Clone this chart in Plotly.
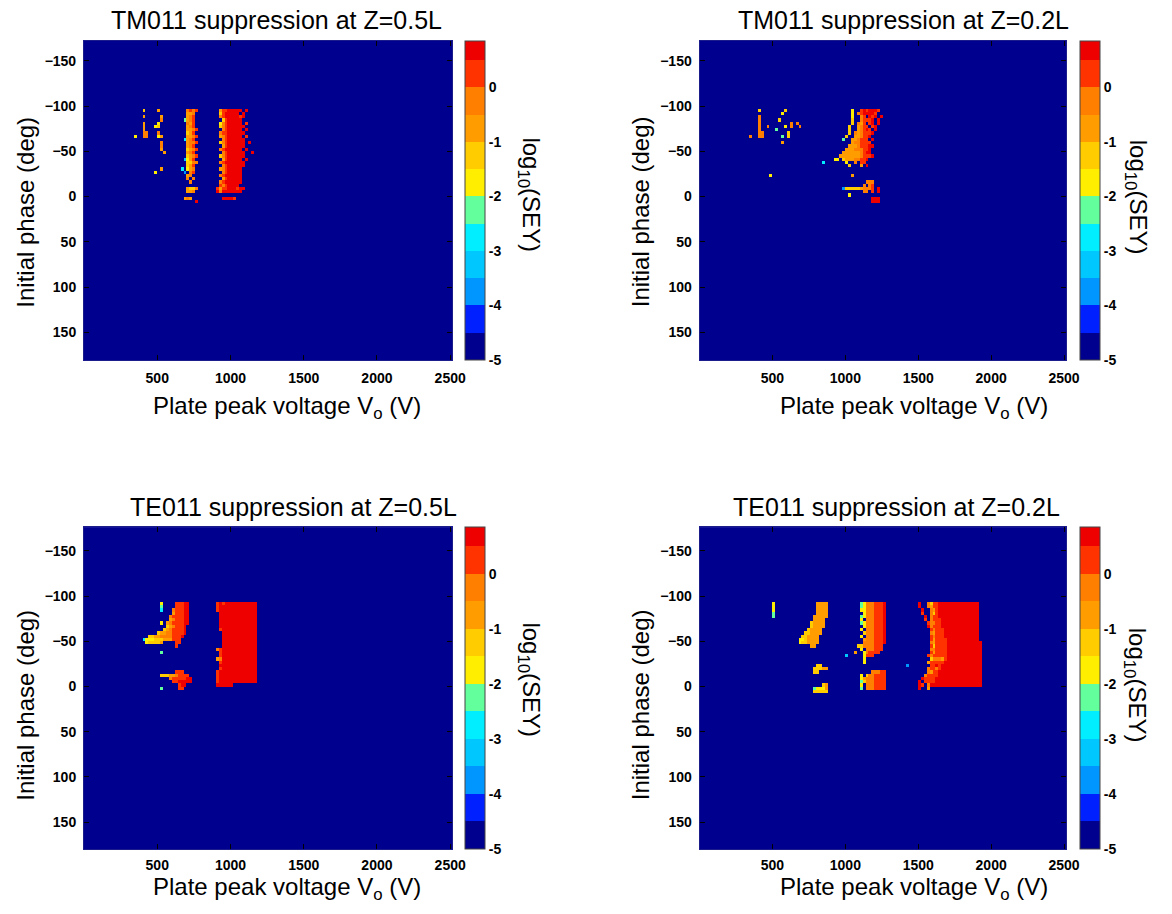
import plotly.graph_objects as go

# ---------------- grid (cell centres) ----------------
VOLT_CENTRES = [10 + 20 * j for j in range(126)]          # V, 20 V cells, 0..2520
PHASE_CENTRES = [-180 + 3.6 * (i + 0.5) for i in range(100)]  # deg, 3.6 deg cells
WIN_ROW0 = 23   # first phase row of the data windows (~ -95 deg)
WIN_COL0 = 15   # first voltage column of the data windows (300 V)

# level codes -> band of log10(SEY): '0' = -5 band ... 'B' = top band
LEVEL_CODES = "0123456789AB"
BAND_EDGES = [-5, -4.5, -4, -3.5, -3, -2.5, -2, -1.5, -1, -0.5, 0, 0.5, 0.85]
BAND_COLORS = ["#00008F", "#0020FF", "#0096FF", "#00C8FF", "#00EEFF", "#62FF9C",
               "#FFEE00", "#FFCC00", "#FF9C00", "#FF7F00", "#FF3300", "#EE0000"]
CB_TICKS = [-5, -4, -3, -2, -1, 0]
X_TICKS = [500, 1000, 1500, 2000, 2500]
Y_TICKS = [-150, -100, -50, 0, 50, 100, 150]

# ---------------- values (row: "col[-col]:level") ----------------
TM011_05L = [
    "5:7 10:8 20:9 21:A 22:9 23:A 31:8 32-33:A 34-38:B 40:B",
    "20-21:8 22:9 31:7 32:A 33-37:B 39:B",
    "5:8 11:8 20:8 21:9 22:A 31:9 32:A 33-37:B 38:A 39:B",
    "11:9 19:5 20:8 21:9 22:A 32:7 33:A 34-38:B",
    "5:8 10:6 20:9 21:8 22:A 31:6 32:9 33:A 34-38:B 40:A",
    "5:8 9:6 10:7 20:8 21:9 22:A 31:7 32:9 33:A 34-39:B",
    "5:8 20-21:8 22:9 23:A 32:9 33:A 34-38:B 40:B",
    "5-6:9 10:9 20:7 21:8 22:A 31:9 32-33:A 34-39:B",
    "2:6 5-6:9 10:6 11:8 20-21:8 22:9 23:A 31:8 32:9 33:A 34-38:B 40:A",
    "19:4 20:8 21:9 22:A 32:9 33:A 34-39:B",
    "11:9 20:8 21-22:9 23:A 31:7 32:9 33:A 34-39:B 41:B",
    "11:9 20:8 21:9 22:A 32:8 33:A 34-39:B",
    "11:8 20:7 21:8 22:9 23:A 31:9 32:A 33-38:B 40:B",
    "12:8 20:8 21:9 22:A 32:9 33:A 34-39:B 42:B",
    "20:7 21:8 22:9 23:A 31:7 32:9 33:A 34-39:B",
    "19:3 20:6 21:8 22:A 32:8 33:A 34-38:B 40:B",
    "20-21:7 22-23:9 31:9 32:A 33-39:B",
    "20:7 21:8 22:A 32:9 33:A 34-39:B",
    "11:8 18:4 20:6 21:8 22:9 31:8 32:9 33:A 34-38:B",
    "9:6 19:2 21:9 22:A 32:9 33:A 34-38:B",
    "20:8 21:9 31:9 32:A 33-38:B",
    "20:9 22:9 32:8 33:A 34-38:B",
    "21:9 31:9 32:A 33-38:B",
    "31:A 32:9 33:A 34-37:B",
    "20:8 21-22:7 23:9 30:A 31:8 32-33:A 34-36:B 37:A 38-39:B",
    "20-21:8 22:9 30:B 31:9 32-38:B",
    "",
    "19:8 20:9 21:8 32-35:B 36:A",
    "23:B",
]

TM011_02L = [
    "5:7 14:7 37:6 40:A 41:B 42:A 43-45:B 46:A",
    "13:6 37:6 39:9 40:A 41-44:B 45:A",
    "5:9 37:6 40:9 41:A 43:B 44:A 45:B 47:B",
    "5:9 12:7 37:7 40:9 41-43:A 44:B 46:B",
    "5:9 16:9 18:9 37:7 39:9 40:8 41:A 43:A 44:B 46:B",
    "5:9 8:9 14:6 16:9 19:9 36:7 39:8 40:9 41-42:A 44:A 45:B",
    "5:9 11:5 36:7 39:8 40:9 41:A 42:B 43:A 45:B",
    "5-6:9 15:7 36:7 38:9 39:8 40:9 41-43:A 44:B",
    "2:9 5-6:9 13:5 15:7 35:7 38-39:8 40:9 41-42:A 43:B",
    "34:5 37-38:8 39:9 40-42:A 44:B",
    "13:8 37:8 38-39:9 40-43:A",
    "36-38:8 39:9 40-42:A 43-44:B",
    "35-37:8 38-40:9 41-42:A 43:B",
    "34-39:8 40:9 41:A 42-43:B",
    "33-39:8 40:9 41-43:A 44:B",
    "31-32:6 34:7 35-37:8 38-39:9 40-41:A 42:B",
    "27:4 35:6 38:9 40-41:A",
    "36:7 40:8 42:B",
    "",
    "",
    "9:6 37:8",
    "",
    "42-44:9",
    "41:9 43:9 44:A",
    "34:2 35-39:7 40:8 41-43:9 44:A 46:B",
    "41-42:9 44:A 46:B",
    "36:6",
    "44-46:B",
    "44-46:B",
]

TE011_05L = [
    "",
    "11:6 16-18:A 19-20:B 30:A 31:B 32:A 33-43:B",
    "11:5 16-18:A 19-20:B 30:A 31-43:B",
    "11:4 15:9 16-18:A 19-20:B 30:A 31-43:B",
    "15:8 16-18:A 19-20:B 31-43:B",
    "14:9 15-18:A 19-20:B 31-43:B",
    "14:8 15:9 16-18:A 19-20:B 31-43:B",
    "11:6 13:8 14:9 15-18:A 19-20:B 31-43:B",
    "13:7 14:8 15:9 16-18:A 19:B 31-43:B",
    "12:7 13:8 14:9 15-18:A 19:B 31:A 32-43:B",
    "10:7 11-12:8 13-14:9 15-18:A 19:B 32-43:B",
    "7-8:7 9-10:8 11-14:9 15-17:A 18:B 32-43:B",
    "5:4 6-8:6 9-11:7 12-14:8 15-17:A 32-43:B",
    "6:6 7-10:7 11:8 16-17:A 32-43:B",
    "16:A 32-43:B",
    "30:9 31:A 32-43:B",
    "11:5 31:A 32-43:B",
    "31:A 32-43:B",
    "30:8 31:9 32-43:B",
    "31:A 32-43:B",
    "31-43:B",
    "31:A 32-43:B",
    "16-18:A 30:A 31-43:B",
    "11-13:7 14-15:8 16:9 17-20:A 30:A 31-43:B",
    "14:9 15-19:A 20-21:B 30:A 31-43:B",
    "15-16:A 17-21:B 30:A 31-43:B",
    "17:A 18-19:B 30-35:B",
    "11:5 17-18:A",
]

TE011_02L = [
    "",
    "10:6 25-28:8 40:5 41:6 42-44:9 45-47:A 48:B 60:B 63:9 64:7 65-66:A 67-80:B",
    "10:6 25-28:8 40:5 41:6 42-44:9 45-47:A 48:B 60:B 63:9 64:8 65-66:A 67-80:B",
    "10:6 25-28:8 40-41:6 42-44:9 45-47:A 48:B 61:B 64:9 65:8 66:A 67-80:B",
    "10:5 25-28:8 41:6 42-44:9 45-47:A 48:B 61:A 64:9 65:7 66:A 67-80:B",
    "10:5 24-28:8 40:5 41:6 42-44:9 45-47:A 48:B 62:B 64:9 65-66:A 67-80:B",
    "24-27:8 40:6 42-44:9 45-47:A 48:B 62:A 64:9 65-67:A 68-80:B",
    "23:7 24-27:8 40:5 41:6 42-44:9 45-47:A 48:B 63:A 64-65:9 66-67:A 68-80:B",
    "23:7 24-27:8 41:6 42-44:9 45-47:A 48:B 63:B 64:9 65-67:A 68-80:B",
    "22:7 23-26:8 40:6 42-44:9 45-47:A 48:B 64:A 65:9 66-68:A 69-80:B",
    "21-22:7 23-26:8 41:7 42-44:9 45-47:A 48:B 64:9 65:8 66-68:A 69-80:B",
    "20-21:7 22-25:8 40:6 42-44:9 45-47:A 48:B 64:A 65:9 66-68:A 69-80:B",
    "19-20:6 21:7 22-25:8 41:8 42-44:9 45-47:A 48:B 64:A 65:8 66-69:A 70-80:B",
    "19:6 20-21:7 22-25:8 41-44:9 45-47:A 48:B 64:9 65:8 66-69:A 70-81:B",
    "23-24:8 39-40:7 41-44:9 45-47:A 64:A 65:7 66-69:A 70-81:B",
    "40:6 42-44:9 45-47:A 64-65:9 66-69:A 70-81:B",
    "38:8 41:6 42:9 43-46:A 64:A 65:8 66-69:A 70-81:B",
    "35:3 41:6 42-44:A 63:A 64:9 65-69:A 70-81:B",
    "41:6 64:7 65-67:9 68:8 69:A 70-81:B",
    "41:6 63:8 64-68:A 69-81:B",
    "25-26:7 56:2 64-65:A 66:B 67:A 68-81:B",
    "24-26:7 27-28:8 63:9 64-65:A 66:9 67:A 68-81:B",
    "24-25:7 44-46:9 47-48:A 63:9 64:8 65-66:A 67-81:B",
    "40:6 42:7 43-44:9 45-48:A 62:9 63-66:A 67-81:B",
    "40:6 41:8 42-44:9 45-48:A 61:B 62-65:A 66-81:B",
    "40:5 41:7 42-44:9 45-48:A 60:B 62-65:A 66-81:B",
    "27:7 28:8 40:6 42-44:9 45-48:A 60:B 61:A 63:9 64-81:B",
    "24:5 25-27:6 28:8 40:5 42-44:9 45-48:A 60:B 63:8",
    "24-28:7",
]

TITLES = ["TM011 suppression at Z=0.5L", "TM011 suppression at Z=0.2L",
          "TE011 suppression at Z=0.5L", "TE011 suppression at Z=0.2L"]


def level_value(code):
    k = LEVEL_CODES.index(code)
    return (BAND_EDGES[k] + BAND_EDGES[k + 1]) / 2.0


def build_z(rows):
    bg = level_value("0")
    z = [[bg] * len(VOLT_CENTRES) for _ in PHASE_CENTRES]
    for r, row in enumerate(rows):
        for tok in row.split():
            cols, code = tok.split(":")
            if "-" in cols:
                a, b = cols.split("-")
            else:
                a = b = cols
            for c in range(int(a), int(b) + 1):
                z[WIN_ROW0 + r][WIN_COL0 + c] = level_value(code)
    return z


# discrete colour scale
span = BAND_EDGES[-1] - BAND_EDGES[0]
colorscale = []
for k, col in enumerate(BAND_COLORS):
    colorscale.append([(BAND_EDGES[k] - BAND_EDGES[0]) / span, col])
    colorscale.append([(BAND_EDGES[k + 1] - BAND_EDGES[0]) / span, col])

W, H = 1172, 914
FONT = "Liberation Sans, Arial, sans-serif"


def fx(px):
    return px / W


def fy(py):
    return 1 - py / H


# panel boxes in pixels: (left, right, top, bottom)
panels = [
    dict(box=(85, 457.7, 40.7, 360), yr=[180.5, -172.2], cb=470.7, data=TM011_05L, xs=5,
         title=(280, 20), ylab=(25, 212), xlab=(290, 408), cbt=(536, 195)),
    dict(box=(708, 1079, 40.7, 360), yr=[180.5, -172.2], cb=1093.3, data=TM011_02L, xs=5,
         title=(914, 20), ylab=(648, 212), xlab=(925, 408), cbt=(1150, 197)),
    dict(box=(85, 457.7, 527.3, 849.3), yr=[180, -176], cb=470.7, data=TE011_05L, xs=3,
         title=(297, 507), ylab=(25, 705), xlab=(290, 888), cbt=(536, 680)),
    dict(box=(708, 1079, 527.3, 849.3), yr=[180, -176], cb=1093.3, data=TE011_02L, xs=3,
         title=(907, 507), ylab=(648, 705), xlab=(925, 888), cbt=(1150, 685)),
]

fig = go.Figure()
annotations = []
layout_axes = {}


def ann(text, px, py, size, angle=0):
    return dict(text=text, x=fx(px), y=fy(py), xref="paper", yref="paper",
                xanchor="center", yanchor="middle", showarrow=False, textangle=angle,
                font=dict(family=FONT, size=size, color="black"))


for n, p in enumerate(panels):
    l, r, t, b = p["box"]
    sfx = "" if n == 0 else str(n + 1)
    fig.add_trace(go.Heatmap(
        x=VOLT_CENTRES, y=PHASE_CENTRES, z=build_z(p["data"]),
        colorscale=colorscale, zmin=BAND_EDGES[0], zmax=BAND_EDGES[-1],
        xaxis="x" + sfx, yaxis="y" + sfx, hoverinfo="skip",
        colorbar=dict(
            x=fx(p["cb"]), xanchor="left", xpad=0, ypad=0,
            y=fy((t + b) / 2), yanchor="middle", len=(b - t) / H, lenmode="fraction",
            thickness=19.5, thicknessmode="pixels",
            outlinewidth=1, outlinecolor="#444444",
            tickvals=CB_TICKS, ticktext=[str(v) for v in CB_TICKS],
            ticks="", tickfont=dict(family=FONT, size=14, color="black", weight="bold"),
        ),
    ))
    layout_axes["xaxis" + sfx] = dict(
        domain=[fx(l), fx(r)], anchor="y" + sfx, range=[0, 2514],
        tickvals=X_TICKS, ticks="inside", ticklen=5, tickcolor="black",
        showgrid=False, zeroline=False, showline=True, linecolor="#1c1c8c", mirror="ticks",
        tickfont=dict(family=FONT, size=14, color="black", weight="bold"),
        ticklabelstandoff=p["xs"],
    )
    layout_axes["yaxis" + sfx] = dict(
        domain=[fy(b), fy(t)], anchor="x" + sfx, range=p["yr"],
        tickvals=Y_TICKS, ticks="inside", ticklen=5, tickcolor="black",
        showgrid=False, zeroline=False, showline=True, linecolor="#1c1c8c", mirror="ticks",
        tickfont=dict(family=FONT, size=14, color="black", weight="bold"),
        ticklabelstandoff=4,
    )
    annotations.append(ann(TITLES[n], p["title"][0], p["title"][1], 25))
    annotations.append(ann("Initial phase (deg)", p["ylab"][0], p["ylab"][1], 24, -90))
    annotations.append(ann("Plate peak voltage V<sub>o</sub> (V)", p["xlab"][0], p["xlab"][1], 24))
    annotations.append(ann("log<sub>10</sub>(SEY)", p["cbt"][0], p["cbt"][1], 24, 90))

fig.update_layout(
    width=W, height=H, margin=dict(l=0, r=0, t=0, b=0),
    paper_bgcolor="white", plot_bgcolor="#00008F",
    annotations=annotations, showlegend=False, **layout_axes,
)

fig.write_html(
    "out.html",
    config={"displayModeBar": False},
    post_script=("document.documentElement.style.overflow='hidden';"
                 "document.body.style.margin='0px';document.body.style.padding='0px';"
                 "document.body.style.overflow='hidden';"),
)
